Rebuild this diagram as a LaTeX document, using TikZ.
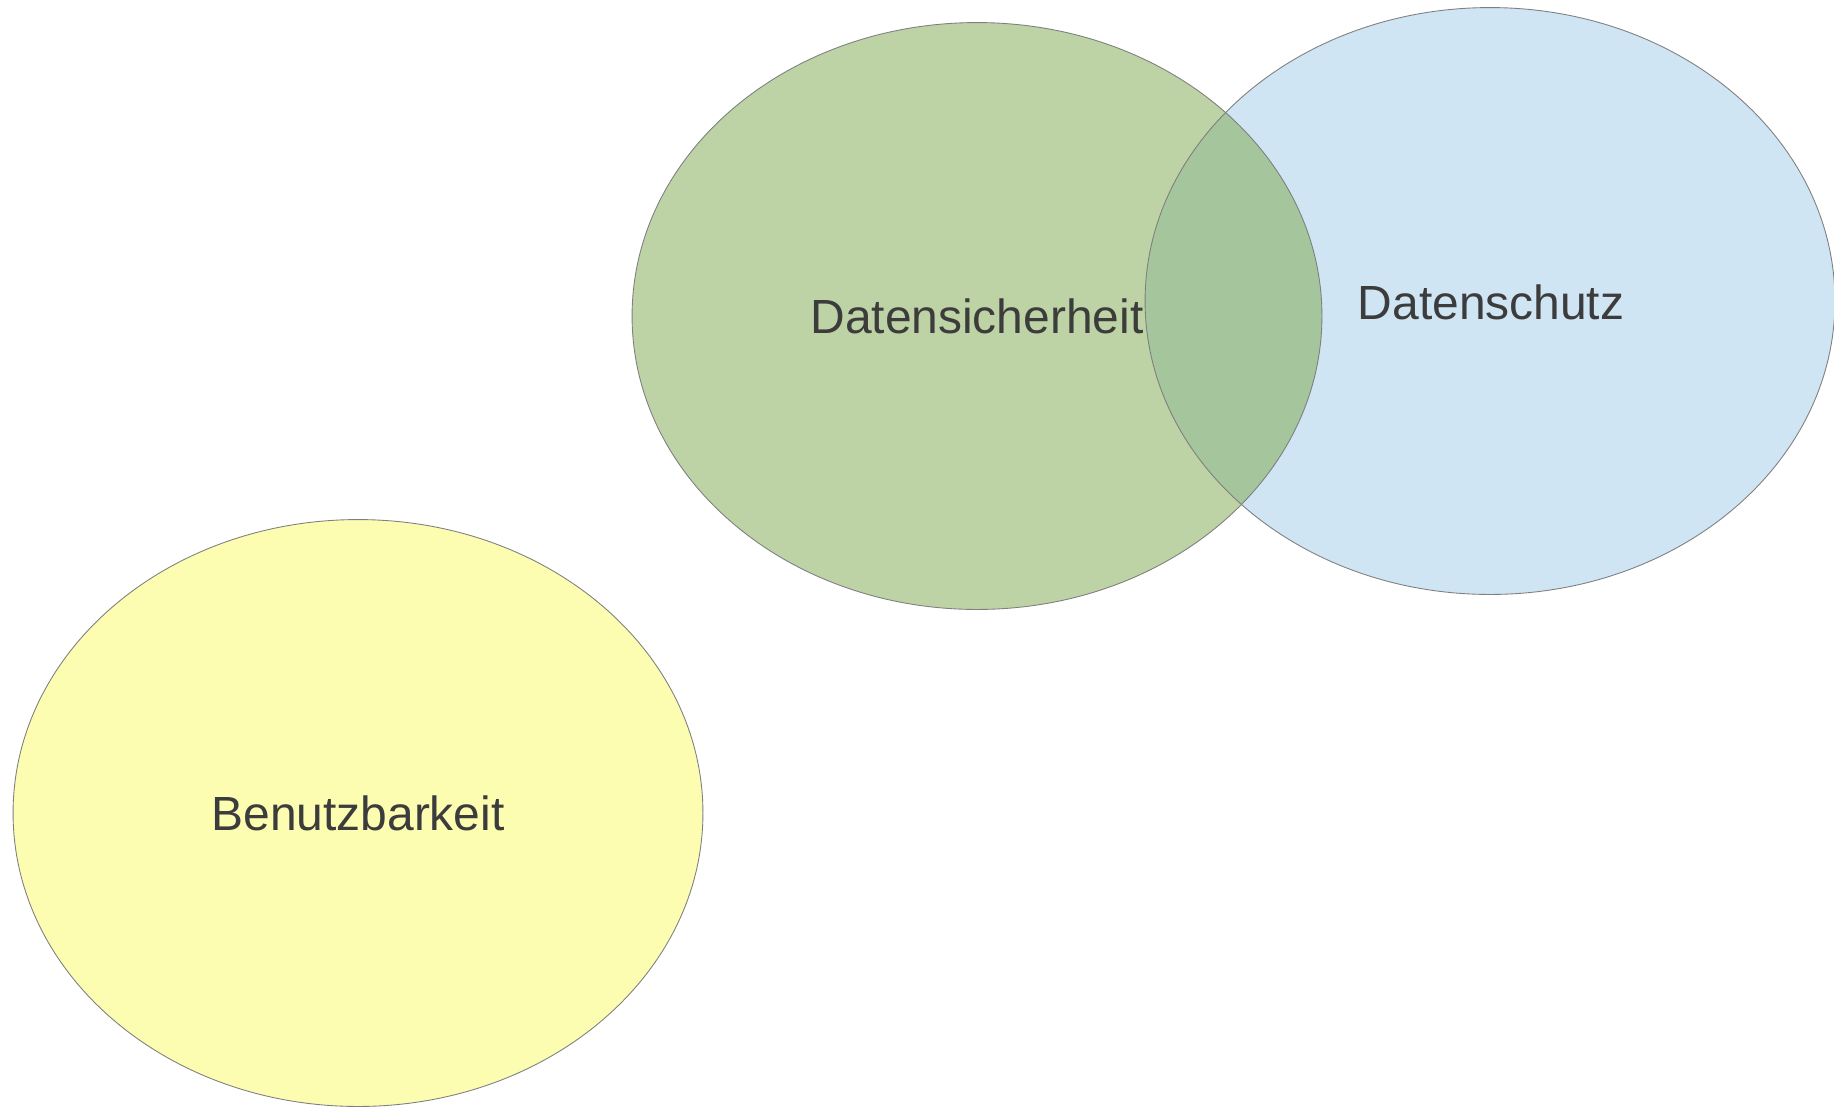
\documentclass[tikz,border=0pt]{standalone}
\usepackage{fontspec}
\setmainfont{Liberation Sans}
\definecolor{gruen}{HTML}{BED3A5}
\definecolor{blau}{HTML}{CFE5F3}
\definecolor{gelb}{HTML}{FDFDB2}
\definecolor{schnitt}{HTML}{A5C59C}
\definecolor{rand}{HTML}{7F7F7F}
\definecolor{schrift}{HTML}{3C3C3C}
\tikzset{
  kreis/.style={x radius=6.9cm, y radius=5.87cm},
  rahmen/.style={line width=0.5pt, color=rand},
  titel/.style={text=schrift, font=\fontsize{27.3}{32}\selectfont}
}
\begin{document}
\begin{tikzpicture}[x=0.02cm,y=-0.02cm]
			\useasboundingbox (0,0) rectangle (1834,1107);
			
			\coordinate (sicher) at (977,316);
			\coordinate (schutz) at (1490,301);
			\coordinate (nutz) at (358,813);
			
			% Flaechen
			\fill [color=blau](schutz) ellipse [kreis];
			\fill [color=gruen](sicher) ellipse [kreis];
			\begin{scope}
				\clip (sicher) ellipse [kreis];
				\fill [color=schnitt](schutz) ellipse [kreis];
			\end{scope}
			\fill [color=gelb](nutz) ellipse [kreis];
			
			% Raender
			\draw [rahmen](schutz) ellipse [kreis];
			\draw [rahmen](sicher) ellipse [kreis];
			\draw [rahmen](nutz) ellipse [kreis];
			
			\node (datensicherheit) at (sicher)[titel]{Datensicherheit};
			\node (datenschutz) at (1491,302)[titel]{Datenschutz};
			\node (benutzbarkeit) at (nutz)[titel]{Benutzbarkeit};
			
\end{tikzpicture}
\end{document}
